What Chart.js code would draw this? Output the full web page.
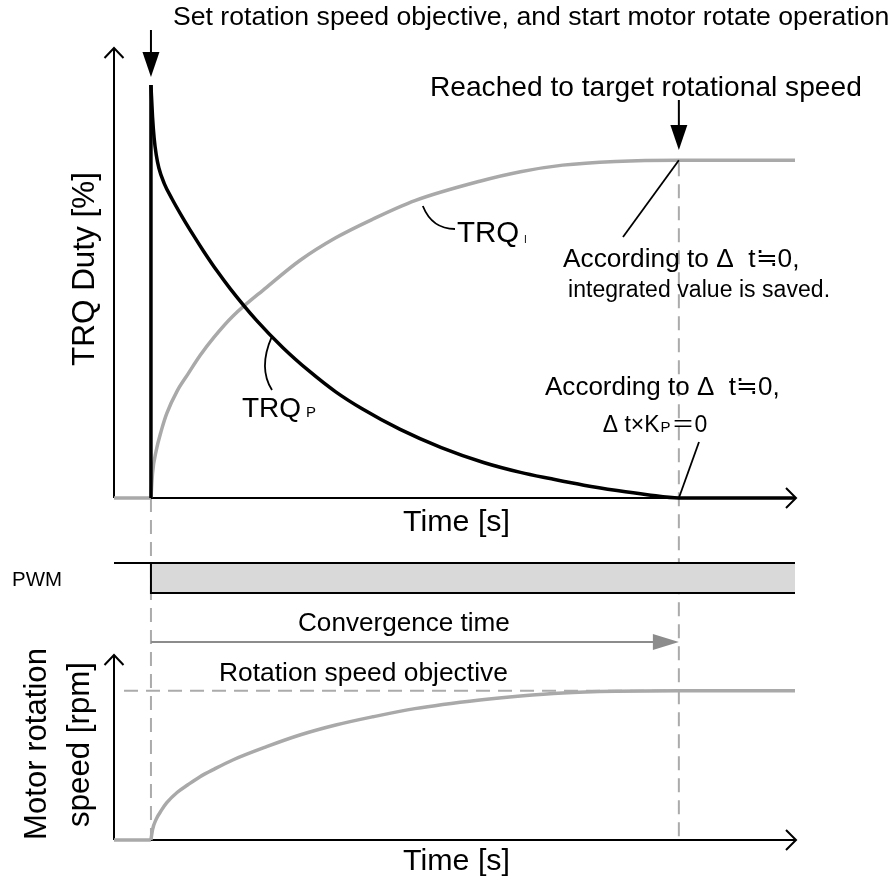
<!DOCTYPE html>
<html><head><meta charset="utf-8">
<script src="https://cdn.jsdelivr.net/npm/chart.js@4/dist/chart.umd.min.js"></script>
<style>html,body{margin:0;padding:0;background:#fff;} #wrap{position:relative;width:893px;height:879px;} canvas{display:block;}</style>
</head><body><div id="wrap"><canvas id="c" width="893" height="879"></canvas></div>
<script>
// ---- data (time in arbitrary units: motor start = 0, convergence = 10) ----
const T_AXIS_START = -0.7, T_AXIS_END = 12.2;
const T_START = 0, T_CONV = 10;
const trqPTime  = [0, 0.03, 0.06, 0.1, 0.15, 0.25, 0.4, 0.6, 0.8, 1, 1.25, 1.5, 2, 2.5, 3, 3.5, 4, 4.72, 5.5, 6.3, 7, 7.56, 8.2, 8.83, 9.4, 10, 12.2];
const trqPValue = [100, 92.3, 87.2, 83.1, 79.9, 76.2, 72.4, 67.9, 63.7, 59.7, 55, 50.7, 43, 36.4, 30.7, 25.7, 21.6, 16.6, 12.2, 8.6, 6.2, 4.7, 3.1, 1.8, 0.8, 0, 0];
const trqPPeak  = 100;
const trqITime  = [0, 0.03, 0.1, 0.2, 0.3, 0.5, 0.7, 0.93, 1.2, 1.55, 2.19, 2.82, 3.5, 4.2, 5, 6.23, 7, 7.8, 8.8, 10, 12.2];
const trqIValue = [0, 6, 11.5, 16.5, 20.5, 26, 30, 34.5, 39, 44, 51, 57.5, 63, 67.5, 72, 76.7, 79, 80.6, 81.5, 81.8, 81.8];
const speedTime  = [0, 0.03, 0.1, 0.2, 0.3, 0.5, 0.7, 0.93, 1.2, 1.55, 2.19, 2.82, 3.5, 4.2, 5, 6.23, 7, 7.8, 8.8, 10, 12.2];
const speedValue = [0, 7, 14, 20, 25, 32, 37, 42.4, 47.5, 53.6, 62.5, 70.3, 77, 82.5, 88, 93.8, 96.5, 98.5, 99.6, 100, 100];
const speedObjective = 100;
const objectiveLineStart = -0.51;
const pwmLow = 0, pwmHigh = 1;

const pts = (xs, ys) => xs.map((x, i) => ({x, y: ys[i]}));

// ---- y bands: map a value range onto pixel rows inside one chart area ----
const AREA_TOP = 48, AREA_BOTTOM = 840;
function band(v0, p0, v1, p1) {
  const k = (p0 - p1) / (v1 - v0);
  return {min: v0 - (AREA_BOTTOM - p0) / k, max: v1 + (p1 - AREA_TOP) / k};
}
const bTop = band(0, 498, trqPPeak, 85);
const bPwm = band(pwmLow, 593, pwmHigh, 563);
const bSpd = band(0, 840, speedObjective, 690.7);

const FONT = '"Liberation Sans", Arial, "Noto Sans CJK JP", sans-serif';
const GRAY_CURVE = '#a9a9a9';
const GRAY_DASH = '#ababab';

function fitText(ctx, str, left, right, cy) {
  ctx.letterSpacing = '0px';
  ctx.font = `20px ${FONT}`;
  const w = ctx.measureText(str).width;
  const size = 20 * (right - left) / w;
  ctx.font = `${size}px ${FONT}`;
  ctx.textAlign = 'left'; ctx.textBaseline = 'middle';
  ctx.fillText(str, left, cy);
}
function spacedText(ctx, str, size, left, right, cy) {
  ctx.letterSpacing = '0px';
  ctx.font = `${size}px ${FONT}`;
  const w = ctx.measureText(str).width;
  const n = [...str].length;
  const ls = (right - left - w) / n;
  ctx.letterSpacing = ls.toFixed(2) + 'px';
  ctx.textAlign = 'left'; ctx.textBaseline = 'middle';
  ctx.fillText(str, left, cy);
  ctx.letterSpacing = '0px';
}
function fitTextRot(ctx, str, cx, top, bottom) {
  ctx.save();
  ctx.letterSpacing = '0px';
  ctx.translate(cx, (top + bottom) / 2);
  ctx.rotate(-Math.PI / 2);
  ctx.font = `20px ${FONT}`;
  const w = ctx.measureText(str).width;
  const size = 20 * (bottom - top) / w;
  ctx.font = `${size}px ${FONT}`;
  ctx.textAlign = 'center'; ctx.textBaseline = 'middle';
  ctx.fillText(str, 0, 0);
  ctx.restore();
}
function line(ctx, x1, y1, x2, y2, color, w, dash) {
  ctx.save();
  ctx.strokeStyle = color; ctx.lineWidth = w; ctx.setLineDash(dash || []);
  ctx.beginPath(); ctx.moveTo(x1, y1); ctx.lineTo(x2, y2); ctx.stroke();
  ctx.restore();
}
function tri(ctx, pts, color) {
  ctx.save(); ctx.fillStyle = color; ctx.beginPath();
  ctx.moveTo(pts[0][0], pts[0][1]);
  for (let i = 1; i < pts.length; i++) ctx.lineTo(pts[i][0], pts[i][1]);
  ctx.closePath(); ctx.fill(); ctx.restore();
}
function chevronUp(ctx, x, y) {
  ctx.save(); ctx.strokeStyle = '#000'; ctx.lineWidth = 2;
  ctx.beginPath(); ctx.moveTo(x - 9.5, y + 10); ctx.lineTo(x, y); ctx.lineTo(x + 9.5, y + 10); ctx.stroke(); ctx.restore();
}
function chevronRight(ctx, x, y) {
  ctx.save(); ctx.strokeStyle = '#000'; ctx.lineWidth = 2;
  ctx.beginPath(); ctx.moveTo(x - 10, y - 10); ctx.lineTo(x, y); ctx.lineTo(x - 10, y + 10); ctx.stroke(); ctx.restore();
}

const backPlugin = {
  id: 'back',
  beforeDatasetsDraw(chart) {
    const ctx = chart.ctx, xs = chart.scales.x, yt = chart.scales.y, ys = chart.scales.ySpd;
    const x0 = xs.getPixelForValue(T_AXIS_START), x1 = xs.getPixelForValue(T_AXIS_END);
    const xStart = xs.getPixelForValue(T_START), xConv = xs.getPixelForValue(T_CONV);
    // dashed guides
    line(ctx, xStart, yt.getPixelForValue(0), xStart, ys.getPixelForValue(0), GRAY_DASH, 2, [14, 8]);
    line(ctx, xConv, yt.getPixelForValue(trqIValue[trqIValue.length - 1]) + 2, xConv, ys.getPixelForValue(0), GRAY_DASH, 2, [14, 8]);
    // top axes
    const yTop0 = yt.getPixelForValue(0);
    line(ctx, x0, yTop0, x0, chart.chartArea.top, '#000', 2);
    chevronUp(ctx, x0, chart.chartArea.top);
    line(ctx, x0, yTop0, x1 + 1, yTop0, '#000', 2);
    chevronRight(ctx, x1 + 1, yTop0);
    // bottom axes
    const yB0 = ys.getPixelForValue(0);
    line(ctx, x0, yB0, x0, 655, '#000', 2);
    chevronUp(ctx, x0, 655);
    line(ctx, x0, yB0, x1 + 1, yB0, '#000', 2);
    chevronRight(ctx, x1 + 1, yB0);
  },
  afterDatasetsDraw(chart) {
    const ctx = chart.ctx, xs = chart.scales.x, yt = chart.scales.y;
    const xStart = xs.getPixelForValue(T_START), xConv = xs.getPixelForValue(T_CONV);
    ctx.save();
    ctx.fillStyle = '#000';
    // top annotation + arrow
    fitText(ctx, 'Set rotation speed objective, and start motor rotate operation', 173, 890, 18);
    line(ctx, xStart, 30, xStart, 54, '#000', 2);
    tri(ctx, [[xStart - 8.5, 52], [xStart + 8.5, 52], [xStart, 77]], '#000');
    // reached
    fitText(ctx, 'Reached to target rotational speed', 430, 862, 88);
    line(ctx, xConv, 100, xConv, 127, '#000', 2);
    tri(ctx, [[xConv - 8.5, 125], [xConv + 8.5, 125], [xConv, 150]], '#000');
    // integrated value saved
    const yPlat = yt.getPixelForValue(trqIValue[trqIValue.length - 1]);
    line(ctx, xConv, yPlat, 623, 237, '#000', 1.8);
    fitText(ctx, 'According to \u0394  t\u22520,', 563, 800, 260);
    spacedText(ctx, 'integrated value is saved.', 23, 568, 830, 291);
    // Kp = 0
    const yZero = yt.getPixelForValue(0);
    line(ctx, xConv, yZero, 699, 442, '#000', 1.8);
    fitText(ctx, 'According to \u0394  t\u22520,', 545, 780, 388);
    ctx.textAlign = 'left'; ctx.textBaseline = 'alphabetic';
    ctx.font = `23px ${FONT}`;
    let xx = 602.7; const bl = 432;
    ctx.fillText('\u0394 t\u00d7K', xx, bl); xx += ctx.measureText('\u0394 t\u00d7K').width + 1;
    ctx.font = `15px ${FONT}`; ctx.fillText('P', xx, bl); xx += ctx.measureText('P').width + 1;
    ctx.font = `23px ${FONT}`; ctx.fillText('\uff1d0', xx, bl);
    // TRQ_I label + leader
    const tI = 5.15, vI = 70.7;
    const ax = xs.getPixelForValue(tI), ay = yt.getPixelForValue(vI);
    ctx.strokeStyle = '#000'; ctx.lineWidth = 1.8;
    ctx.beginPath(); ctx.moveTo(ax, ay); ctx.quadraticCurveTo(432, 229, 455, 229); ctx.stroke();
    ctx.font = `29.5px ${FONT}`; ctx.fillText('TRQ', 457, 242);
    ctx.font = `10px ${FONT}`; ctx.fillText('I', 524, 243);
    // TRQ_P label + leader
    const tP = 2.29, vP = 39.1;
    const bx = xs.getPixelForValue(tP), by = yt.getPixelForValue(vP);
    ctx.beginPath(); ctx.moveTo(bx, by); ctx.quadraticCurveTo(258, 368, 272, 390); ctx.stroke();
    ctx.font = `28px ${FONT}`; ctx.fillText('TRQ', 242, 417);
    ctx.font = `15px ${FONT}`; ctx.fillText('P', 306, 417);
    // axis titles
    fitText(ctx, 'Time [s]', 403, 510, 523);
    fitText(ctx, 'Time [s]', 403, 510, 862);
    fitTextRot(ctx, 'TRQ Duty [%]', 85, 172, 366);
    fitTextRot(ctx, 'Motor rotation', 37.5, 648, 840);
    fitTextRot(ctx, 'speed [rpm]', 80, 662, 827);
    fitText(ctx, 'PWM', 12, 62, 580);
    // convergence time arrow
    fitText(ctx, 'Convergence time', 298, 510, 624);
    line(ctx, xStart, 642, xConv - 24, 642, '#8c8c8c', 2);
    tri(ctx, [[xConv - 26, 634], [xConv - 26, 650], [xConv, 642]], '#8c8c8c');
    fitText(ctx, 'Rotation speed objective', 219, 508, 674);
    ctx.restore();
  }
};

const common = {pointRadius: 0, clip: false, fill: false};
new Chart(document.getElementById('c'), {
  type: 'line',
  data: {
    datasets: [
      // TRQ_P spike + decay (black, on top)
      {...common, data: [{x: T_START, y: 0}, {x: T_START, y: trqPPeak}], borderColor: '#000', borderWidth: 3.5, yAxisID: 'y'},
      {...common, data: pts(trqPTime, trqPValue), borderColor: '#000', borderWidth: 3.5, cubicInterpolationMode: 'monotone', yAxisID: 'y'},
      // TRQ_I (gray)
      {...common, data: [{x: T_AXIS_START, y: 0}, {x: T_START, y: 0}], borderColor: GRAY_CURVE, borderWidth: 3.5, yAxisID: 'y'},
      {...common, data: pts(trqITime, trqIValue), borderColor: GRAY_CURVE, borderWidth: 3.5, cubicInterpolationMode: 'monotone', yAxisID: 'y'},
      // PWM
      {...common, data: [{x: T_AXIS_START, y: pwmHigh}, {x: T_AXIS_END, y: pwmHigh}], borderColor: '#000', borderWidth: 2, yAxisID: 'yPwm'},
      {...common, data: [{x: T_START, y: pwmHigh}, {x: T_START, y: pwmLow}, {x: T_AXIS_END, y: pwmLow}], borderColor: '#000', borderWidth: 2,
        fill: {value: pwmHigh}, backgroundColor: '#d9d9d9', yAxisID: 'yPwm'},
      // motor speed
      {...common, data: [{x: T_AXIS_START, y: 0}, {x: T_START, y: 0}], borderColor: GRAY_CURVE, borderWidth: 3.5, yAxisID: 'ySpd'},
      {...common, data: pts(speedTime, speedValue), borderColor: GRAY_CURVE, borderWidth: 3.5, cubicInterpolationMode: 'monotone', yAxisID: 'ySpd'},
      // objective dashed line
      {...common, data: [{x: objectiveLineStart, y: speedObjective}, {x: T_CONV, y: speedObjective}], borderColor: GRAY_DASH, borderWidth: 2, borderDash: [14, 8], yAxisID: 'ySpd'}
    ]
  },
  options: {
    responsive: false, animation: false, events: [],
    layout: {padding: {left: 114, right: 893 - 795, top: AREA_TOP, bottom: 879 - AREA_BOTTOM}},
    plugins: {legend: {display: false}, tooltip: {enabled: false}},
    scales: {
      x: {type: 'linear', min: T_AXIS_START, max: T_AXIS_END, display: false},
      y: {type: 'linear', min: bTop.min, max: bTop.max, display: false},
      yPwm: {type: 'linear', min: bPwm.min, max: bPwm.max, display: false},
      ySpd: {type: 'linear', min: bSpd.min, max: bSpd.max, display: false}
    }
  },
  plugins: [backPlugin]
});
</script></body></html>
